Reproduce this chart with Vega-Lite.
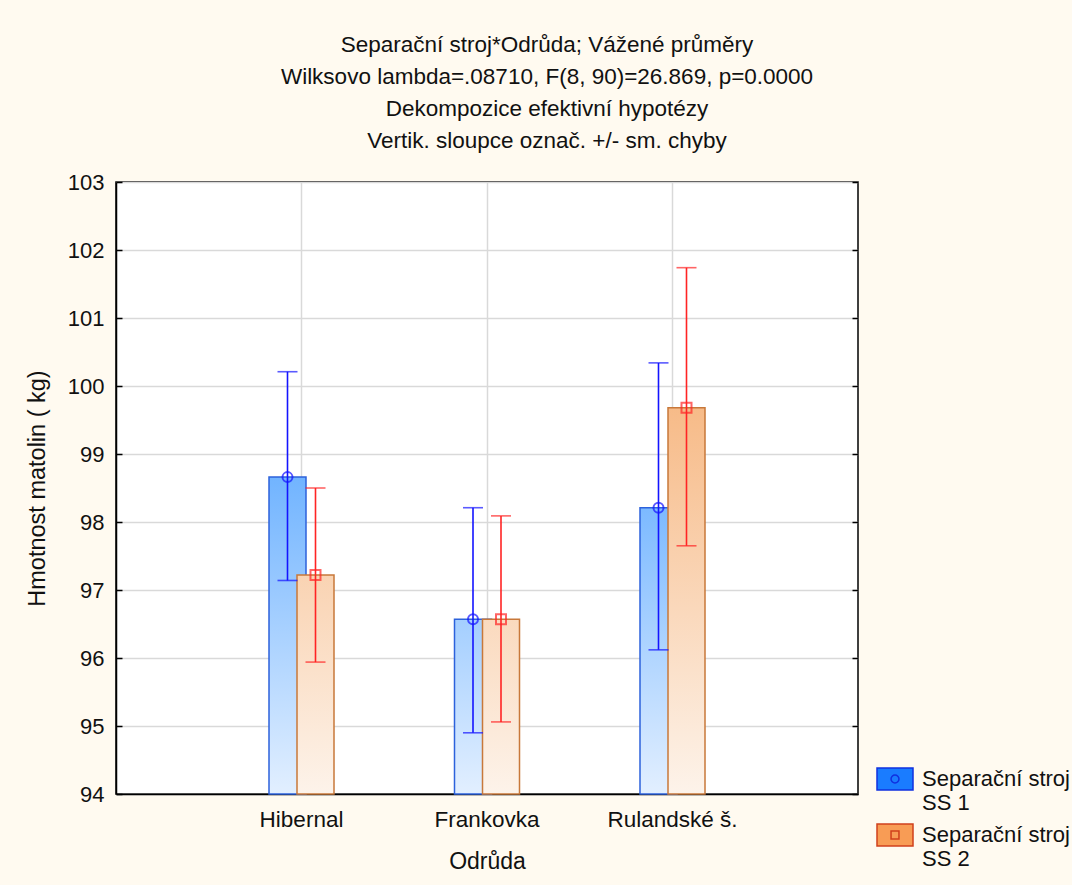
{
  "$schema": "https://vega.github.io/schema/vega-lite/v6.json",
  "width": 742,
  "height": 612,
  "autosize": "none",
  "padding": {"left": 116, "top": 182, "right": 214, "bottom": 91},
  "background": "#fffaf0",
  "config": {
    "font": "Liberation Sans",
    "view": {"fill": "white", "stroke": "#000", "strokeWidth": 1.5}
  },
  "title": {
    "text": ["Separační stroj*Odrůda; Vážené průměry", "Wilksovo lambda=.08710, F(8, 90)=26.869, p=0.0000", "Dekompozice efektivní hypotézy", "Vertik. sloupce označ. +/- sm. chyby"],
    "fontSize": 22.5,
    "fontWeight": "normal",
    "color": "#111",
    "lineHeight": 32,
    "offset": 19,
    "dx": 60,
    "anchor": "middle"
  },
  "data": {
    "values": [
      {"Odruda": "Hibernal", "Stroj": "SS 1", "mean": 98.66, "low": 97.14, "high": 100.21},
      {"Odruda": "Hibernal", "Stroj": "SS 2", "mean": 97.22, "low": 95.94, "high": 98.5},
      {"Odruda": "Frankovka", "Stroj": "SS 1", "mean": 96.57, "low": 94.9, "high": 98.21},
      {"Odruda": "Frankovka", "Stroj": "SS 2", "mean": 96.57, "low": 95.06, "high": 98.09},
      {"Odruda": "Rulandské š.", "Stroj": "SS 1", "mean": 98.21, "low": 96.12, "high": 100.34},
      {"Odruda": "Rulandské š.", "Stroj": "SS 2", "mean": 99.68, "low": 97.65, "high": 101.74}
    ]
  },
  "encoding": {
    "x": {
      "field": "Odruda",
      "type": "nominal",
      "sort": ["Hibernal", "Frankovka", "Rulandské š."],
      "scale": {"paddingInner": 0, "paddingOuter": 0.5},
      "axis": {
        "title": "Odrůda",
        "titleFontSize": 23,
        "titleFontWeight": "normal",
        "titleColor": "#111",
        "titlePadding": 20,
        "labelFontSize": 22.5,
        "labelColor": "#111",
        "labelAngle": 0,
        "labelPadding": 20,
        "tickSize": -6,
        "tickColor": "#000",
        "tickWidth": 1.5,
        "domainColor": "#000",
        "domainWidth": 1.5,
        "grid": true,
        "gridColor": "#d9d9d9",
        "gridWidth": 1.5
      }
    },
    "xOffset": {
      "field": "Stroj",
      "type": "nominal",
      "scale": {"range": [64.75, 120.75], "paddingInner": 0, "paddingOuter": 0}
    }
  },
  "layer": [
    {
      "mark": {
        "type": "bar",
        "width": 37,
        "strokeWidth": 1.5,
        "fill": {"expr": "datum.Stroj === 'SS 1' ? {gradient: 'linear', x1: 0, y1: -(103 - datum.mean) / (datum.mean - 94), x2: 0, y2: 1, stops: [{offset: 0, color: '#087dff'}, {offset: 1, color: '#e2efff'}]} : {gradient: 'linear', x1: 0, y1: -(103 - datum.mean) / (datum.mean - 94), x2: 0, y2: 1, stops: [{offset: 0, color: '#f39a4f'}, {offset: 1, color: '#fdf3ea'}]}"}
      },
      "encoding": {
        "y": {
          "field": "mean",
          "type": "quantitative",
          "scale": {"domain": [94, 103], "zero": false, "nice": false},
          "axis": {
            "values": [94, 95, 96, 97, 98, 99, 100, 101, 102, 103],
            "title": "Hmotnost matolin ( kg)",
            "titleFontSize": 23.5,
            "titleFontWeight": "normal",
            "titleColor": "#111",
            "titlePadding": 18,
            "labelFontSize": 22,
            "labelColor": "#111",
            "labelPadding": 18,
            "tickSize": -6,
            "tickColor": "#000",
            "tickWidth": 1.5,
            "domainColor": "#000",
            "domainWidth": 1.5,
            "gridColor": "#d9d9d9",
            "gridWidth": 1.5
          }
        },
        "y2": {"datum": 94},
        "stroke": {
          "condition": {"test": "datum.Stroj === 'SS 1'", "value": "#2c62dc"},
          "value": "#c8783a"
        },
        "opacity": {
          "field": "Stroj",
          "type": "nominal",
          "scale": {"domain": ["SS 1", "SS 2"], "range": [1, 1]},
          "legend": {
            "orient": "none",
            "legendX": 760,
            "legendY": 578,
            "title": null,
            "labelExpr": "['Separační stroj', datum.label]",
            "labelFontSize": 22,
            "labelColor": "#111",
            "labelLimit": 400,
            "labelOffset": 8,
            "rowPadding": 2,
            "symbolType": "M-1,-0.61H1V0.61H-1Z",
            "symbolSize": 1296,
            "symbolStrokeWidth": 1.5,
            "encoding": {
              "symbols": {
                "shape": {"value": {"expr": "datum.value === 'SS 1' ? 'M-1,-0.61H1V0.61H-1ZM-0.22,0A0.22,0.22 0 1,1 0.22,0A0.22,0.22 0 1,1 -0.22,0Z' : 'M-1,-0.61H1V0.61H-1ZM-0.22,-0.22H0.22V0.22H-0.22Z'"}},
                "fill": {"value": {"expr": "datum.value === 'SS 1' ? '#1a7cff' : '#f89c55'"}},
                "stroke": {"value": {"expr": "datum.value === 'SS 1' ? '#1030e0' : '#d0401c'"}},
                "fillOpacity": {"value": 1},
                "strokeWidth": {"value": 1.5}
              }
            }
          }
        }
      }
    },
    {
      "mark": {"type": "rule", "strokeWidth": 1.6},
      "encoding": {
        "y": {
          "field": "low",
          "type": "quantitative",
          "axis": {
            "orient": "right",
            "values": [94, 95, 96, 97, 98, 99, 100, 101, 102, 103],
            "labels": false,
            "title": null,
            "grid": false,
            "domain": false,
            "tickSize": -6,
            "tickColor": "#000",
            "tickWidth": 1.5
          }
        },
        "y2": {"field": "high"},
        "stroke": {
          "condition": {"test": "datum.Stroj === 'SS 1'", "value": "#1414ff"},
          "value": "#ff2424"
        }
      }
    },
    {
      "mark": {"type": "tick", "size": 20, "thickness": 1.6},
      "encoding": {
        "y": {"field": "low", "type": "quantitative", "axis": null},
        "color": {
          "condition": {"test": "datum.Stroj === 'SS 1'", "value": "#1414ff"},
          "value": "#ff2424"
        }
      }
    },
    {
      "mark": {"type": "tick", "size": 20, "thickness": 1.6},
      "encoding": {
        "y": {"field": "high", "type": "quantitative", "axis": null},
        "color": {
          "condition": {"test": "datum.Stroj === 'SS 1'", "value": "#1414ff"},
          "value": "#ff2424"
        }
      }
    },
    {
      "mark": {"type": "point", "filled": false, "strokeWidth": 2, "size": 100},
      "encoding": {
        "y": {"field": "mean", "type": "quantitative", "axis": null},
        "stroke": {
          "condition": {"test": "datum.Stroj === 'SS 1'", "value": "#1414ff"},
          "value": "#ff2424"
        },
        "shape": {
          "condition": {"test": "datum.Stroj === 'SS 1'", "value": "circle"},
          "value": "square"
        }
      }
    }
  ],
  "resolve": {"axis": {"y": "independent"}}
}
